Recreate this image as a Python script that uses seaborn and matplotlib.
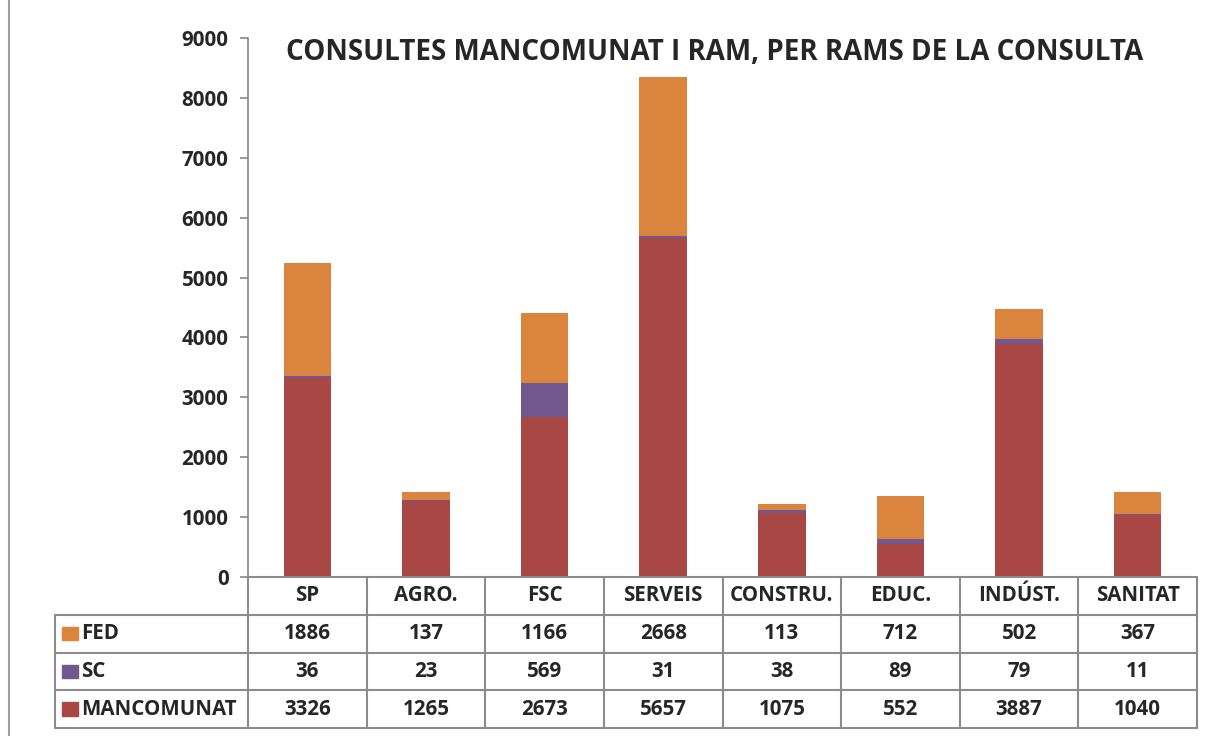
import pandas as pd
import matplotlib.pyplot as plt
import seaborn as sns

categories = ["SP", "AGRO.", "FSC", "SERVEIS", "CONSTRU.", "EDUC.", "INDÚST.", "SANITAT"]
fed = [1886, 137, 1166, 2668, 113, 712, 502, 367]
sc = [36, 23, 569, 31, 38, 89, 79, 11]
mancomunat = [3326, 1265, 2673, 5657, 1075, 552, 3887, 1040]

series_names = ["FED", "SC", "MANCOMUNAT"]
colors = {"FED": "#DB843D", "SC": "#71588F", "MANCOMUNAT": "#A94744"}

df = pd.DataFrame({"cat": categories, "FED": fed, "SC": sc, "MANCOMUNAT": mancomunat})
df["top_sc"] = df["MANCOMUNAT"] + df["SC"]
df["top_fed"] = df["top_sc"] + df["FED"]

sns.set_style("white")
plt.rcParams["font.family"] = ["Open Sans", "DejaVu Sans"]
plt.rcParams["font.weight"] = "bold"

FS = 14.8

W, H = 1218, 736
fig = plt.figure(figsize=(W / 100, H / 100), dpi=100)

def px_axes(x0, y0, x1, y1):
    return fig.add_axes([x0 / W, 1 - y1 / H, (x1 - x0) / W, (y1 - y0) / H])

ax = px_axes(248, 38, 1197, 577)

# stacked bars: draw cumulative totals from the top down
for col, name in [("top_fed", "FED"), ("top_sc", "SC"), ("MANCOMUNAT", "MANCOMUNAT")]:
    sns.barplot(data=df, x="cat", y=col, color=colors[name], width=0.4,
                saturation=1, ax=ax, linewidth=0)

ax.set_xlim(-0.5, len(categories) - 0.5)
ax.set_ylim(0, 9000)
ax.set_yticks(range(0, 9001, 1000))
ax.tick_params(axis="y", labelsize=FS, length=6, width=1.2, color="#888888", pad=8, left=True)
ax.set_xticks([])
ax.set_xlabel("")
ax.set_ylabel("")
for lab in ax.get_yticklabels():
    lab.set_fontweight("bold")
for side in ["top", "right", "bottom"]:
    ax.spines[side].set_visible(False)
ax.spines["left"].set_color("#888888")
ax.spines["left"].set_linewidth(1.2)

fig.text(715 / W, 1 - 52 / H, "CONSULTES MANCOMUNAT I RAM, PER RAMS DE LA CONSULTA",
         ha="center", va="center", fontsize=20, fontweight="bold")

# data table under the plot
legend_w = (248 - 55) / ((1197 - 248) / len(categories))
tab = px_axes(55, 577, 1197, 728)
x_left = -0.5 - legend_w
x_right = len(categories) - 0.5
tab.set_xlim(x_left, x_right)
tab.set_ylim(4, 0)
tab.axis("off")
lc = "#8c8c8c"
lw = 1.5

# horizontal lines
tab.plot([-0.5, x_right], [0, 0], color=lc, lw=lw, clip_on=False)
for r in [1, 2, 3, 4]:
    tab.plot([x_left, x_right], [r, r], color=lc, lw=lw, clip_on=False)
# vertical lines
tab.plot([x_left, x_left], [1, 4], color=lc, lw=lw, clip_on=False)
for i in range(len(categories) + 1):
    tab.plot([i - 0.5, i - 0.5], [0, 4], color=lc, lw=lw, clip_on=False)

for i, c in enumerate(categories):
    tab.text(i, 0.5, c, ha="center", va="center", fontsize=FS, fontweight="bold")

values = {"FED": fed, "SC": sc, "MANCOMUNAT": mancomunat}
for r, name in enumerate(series_names, start=1):
    tab.add_patch(plt.Rectangle((x_left + 0.06, r + 0.32), 0.13, 0.36,
                                color=colors[name], clip_on=False))
    tab.text(x_left + 0.22, r + 0.5, name, ha="left", va="center", fontsize=FS, fontweight="bold")
    for i, v in enumerate(values[name]):
        tab.text(i, r + 0.5, str(v), ha="center", va="center", fontsize=FS, fontweight="bold")

# chart area border
fig.add_artist(plt.Line2D([9 / W, 9 / W], [0, 1], color="#a0a0a0", lw=1.5))

fig.savefig("out.png", dpi=100)
